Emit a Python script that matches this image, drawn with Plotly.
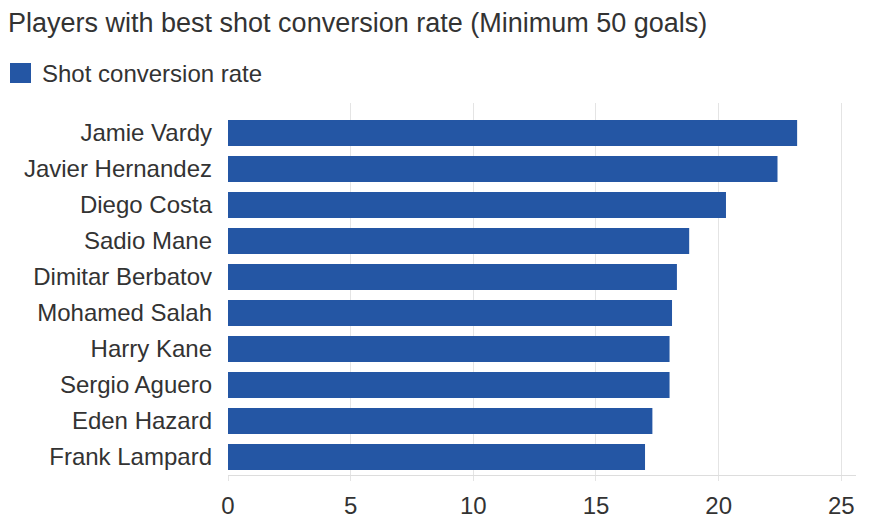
import plotly.graph_objects as go

players = ["Jamie Vardy", "Javier Hernandez", "Diego Costa", "Sadio Mane", "Dimitar Berbatov",
           "Mohamed Salah", "Harry Kane", "Sergio Aguero", "Eden Hazard", "Frank Lampard"]
conversion_rate = [23.2, 22.4, 20.3, 18.8, 18.3, 18.1, 18.0, 18.0, 17.3, 17.0]
x_ticks = [0, 5, 10, 15, 20, 25]
series_name = "Shot conversion rate"
title_text = "Players with best shot conversion rate (Minimum 50 goals)"

BAR = "#2456A4"
TXT = "#333333"
FONT = "Arial, Liberation Sans, sans-serif"

W, H = 853, 516
L, R, T, B = 220, 5, 95, 49
PW, PH = W - L - R, H - T - B

fig = go.Figure(go.Bar(
    x=conversion_rate, y=players, orientation="h",
    marker=dict(color=BAR, line=dict(width=0)),
    name=series_name, showlegend=False,
))

fig.update_layout(
    width=W, height=H,
    margin=dict(l=L, r=R, t=T, b=B),
    paper_bgcolor="white", plot_bgcolor="white",
    font=dict(family=FONT, color=TXT, size=24),
    bargap=0.28,
    title=dict(text=title_text, x=0, xanchor="left", xref="container",
               y=1 - 14.5 / H, yanchor="middle", yref="container",
               font=dict(size=27, color=TXT, family=FONT)),
    xaxis=dict(range=[0, 25.6], tickvals=x_ticks, showgrid=True, gridcolor="#e4e4e4", gridwidth=1,
               zeroline=False, showline=True, linecolor="#dddddd", linewidth=1,
               ticks="outside", ticklen=5, tickcolor="#e4e4e4", ticklabelstandoff=4,
               tickfont=dict(size=24, color=TXT), fixedrange=True),
    yaxis=dict(categoryorder="array", categoryarray=players, range=[9.5, -0.833],
               showgrid=False, zeroline=False, showline=False, ticks="",
               ticklabelstandoff=15, tickfont=dict(size=24, color=TXT), fixedrange=True),
    shapes=[dict(type="rect", xref="paper", yref="paper",
                 x0=(2 - L) / PW, x1=(23 - L) / PW,
                 y0=(T + PH - 75) / PH, y1=(T + PH - 55) / PH,
                 fillcolor=BAR, line=dict(width=0))],
    annotations=[dict(text=series_name, xref="paper", yref="paper",
                      x=(32 - L) / PW, y=(T + PH - 65) / PH, xanchor="left", yanchor="middle",
                      showarrow=False, font=dict(size=24, color=TXT, family=FONT))],
)

fig.write_html("out.html")
